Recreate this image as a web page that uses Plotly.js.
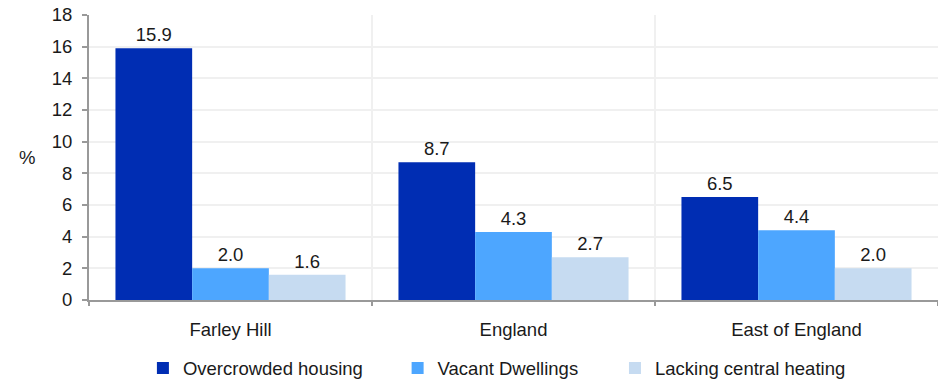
<!DOCTYPE html>
<html>
<head>
<meta charset="utf-8">
<script src="https://cdn.plot.ly/plotly-3.0.1.min.js"></script>
<style>
  html, body { margin: 0; padding: 0; background: #fff; }
  #chart { width: 938px; height: 383px; }
</style>
</head>
<body>
<div id="chart"></div>
<script>
// Housing indicators by area (%)
const areas = ["Farley Hill", "England", "East of England"];
const overcrowded = [15.9, 8.7, 6.5];
const vacant = [2.0, 4.3, 4.4];
const lackingHeating = [1.6, 2.7, 2.0];
const seriesNames = ["Overcrowded housing", "Vacant Dwellings", "Lacking central heating"];
const yTicks = [0, 2, 4, 6, 8, 10, 12, 14, 16, 18];

const FONT = "'Liberation Sans', Arial, sans-serif";
const FS = 18.5;
const TXT = "#1a1a1a";
const colors = ["#002db3", "#4da6ff", "#c6dbf1"];
const seriesValues = [overcrowded, vacant, lackingHeating];
const legendIds = ["legend", "legend2", "legend3"];

const positions = areas.map((_, i) => i);

const traces = seriesValues.map((vals, k) => ({
  type: "bar",
  name: seriesNames[k],
  legend: legendIds[k],
  x: positions,
  y: vals,
  marker: { color: colors[k], line: { width: 0 } },
  text: vals.map(v => v.toFixed(1)),
  textposition: "outside",
  textfont: { family: FONT, size: FS, color: TXT },
  cliponaxis: false,
  hoverinfo: "skip"
}));

// Invisible trace on the secondary x axis so category separators are drawn
traces.push({
  type: "scatter",
  x: [-0.5, 2.5],
  y: [0, 0],
  xaxis: "x2",
  mode: "none",
  showlegend: false,
  hoverinfo: "skip"
});

// One legend box per series, laid out in a single row under the axis
const legendX = [0.0635, 0.3635, 0.6195];
function legendBox(x) {
  return {
    orientation: "h",
    x: x,
    xanchor: "left",
    y: -0.174,
    yanchor: "top",
    font: { family: FONT, size: FS, color: TXT },
    itemclick: false,
    bgcolor: "rgba(0,0,0,0)"
  };
}

const layout = {
  width: 938,
  height: 383,
  margin: { l: 89, r: 0, t: 15, b: 83, autoexpand: false },
  paper_bgcolor: "#fff",
  plot_bgcolor: "#fff",
  font: { family: FONT, size: FS, color: TXT },
  barmode: "group",
  bargap: 0.187,
  bargroupgap: 0,
  showlegend: true,
  legend: legendBox(legendX[0]),
  legend2: legendBox(legendX[1]),
  legend3: legendBox(legendX[2]),
  annotations: [{
    text: "%",
    xref: "paper",
    yref: "paper",
    x: -0.073,
    y: 0.5,
    xanchor: "center",
    yanchor: "middle",
    showarrow: false,
    font: { family: FONT, size: FS, color: TXT }
  }],
  xaxis: {
    range: [-0.5, 2.5],
    tickmode: "array",
    tickvals: positions,
    ticktext: areas,
    ticks: "",
    showgrid: false,
    zeroline: false,
    showline: true,
    linecolor: "#999",
    linewidth: 2,
    tickfont: { family: FONT, size: FS, color: TXT },
    ticklabelstandoff: 12
  },
  xaxis2: {
    overlaying: "x",
    anchor: "y",
    side: "bottom",
    range: [-0.5, 2.5],
    tickmode: "array",
    tickvals: [-0.5, 0.5, 1.5, 2.5],
    showticklabels: false,
    ticks: "outside",
    ticklen: 5,
    tickwidth: 2,
    tickcolor: "#999",
    showgrid: true,
    gridcolor: "#f0f0f0",
    gridwidth: 2,
    zeroline: false,
    showline: false
  },
  yaxis: {
    range: [0, 18],
    tickmode: "array",
    tickvals: yTicks,
    ticks: "outside",
    ticklen: 5,
    tickwidth: 2,
    tickcolor: "#999",
    showline: true,
    linecolor: "#999",
    linewidth: 2,
    showgrid: true,
    gridcolor: "#f0f0f0",
    gridwidth: 2,
    zeroline: false,
    tickfont: { family: FONT, size: FS, color: TXT },
    ticklabelstandoff: 6
  }
};

Plotly.newPlot("chart", traces, layout, { displayModeBar: false, staticPlot: true });
</script>
</body>
</html>
